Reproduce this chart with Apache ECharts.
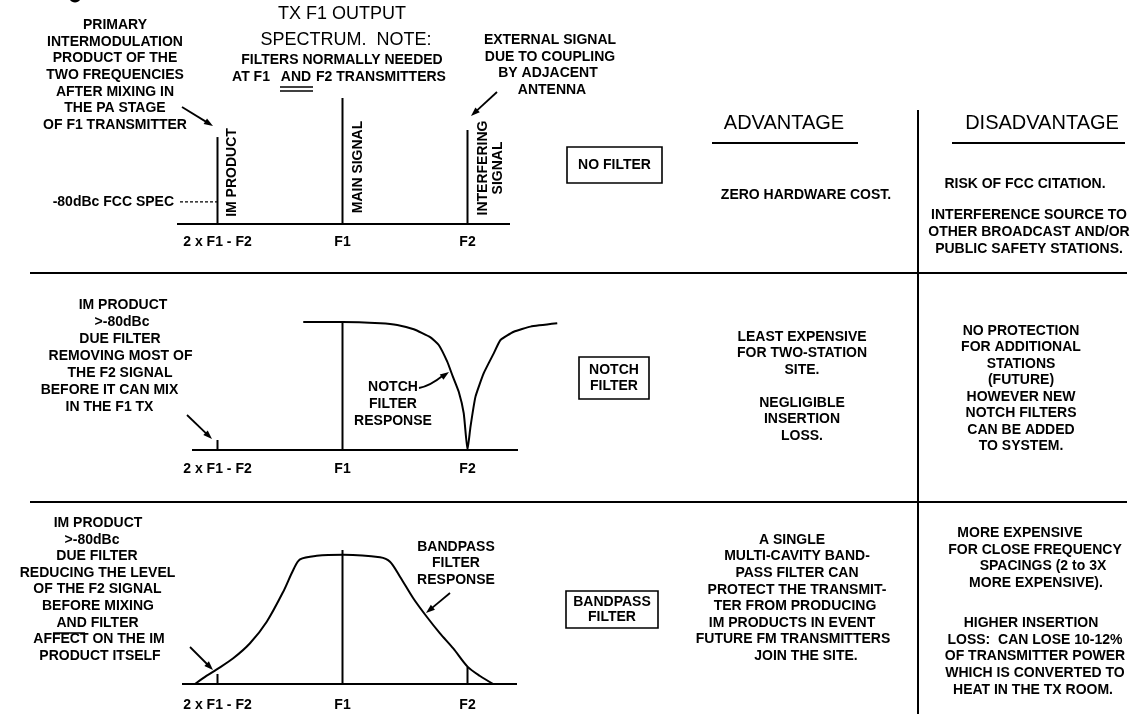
<!DOCTYPE html>
<html><head><meta charset="utf-8">
<script src="https://cdn.jsdelivr.net/npm/echarts@6/dist/echarts.min.js"></script>
<style>html,body{margin:0;padding:0;background:#fff}#c{width:1135px;height:714px}</style>
</head><body><div id="c"></div>
<script>
// ---------------- data ----------------
const freqPos = [1, 2, 3];
const freqLabels = ['2 x F1 - F2', 'F1', 'F2'];
// Panel 1: no filter (relative level, main signal = 100)
const noFilterFreq = [1, 2, 3];
const noFilterLevel = [69, 100, 74.6];
const fccSpecLevel = 17.5;
const fccSpecSpan = [0.70, 1.02];
// Panel 2: notch filter
const notchImLevel = 7.8;
const notchMainLevel = 100;
const notchFreq = [1.686, 2.0, 2.304, 2.438, 2.570, 2.704, 2.770, 2.838, 2.878, 2.930, 2.970, 3.0, 3.024, 3.064, 3.130, 3.210, 3.264, 3.370, 3.504, 3.718];
const notchResp = [100, 100, 99, 97.7, 94.3, 88.0, 82.0, 69.0, 58.6, 45.5, 28.6, 0, 18.2, 41.7, 60.0, 75.5, 85.9, 92.4, 96.4, 99.0];
// Panel 3: bandpass filter
const bandImLevel = 7.5;
const bandMainLevel = 100;
const bandF2Level = 12.7;
const bandFreq = [0.82, 0.914, 0.994, 1.126, 1.26, 1.394, 1.526, 1.606, 1.66, 1.794, 2.006, 2.30, 2.38, 2.46, 2.566, 2.674, 2.78, 2.886, 3.0, 3.1, 3.206];
const bandResp = [0, 6.2, 10.9, 19.2, 30.4, 46.5, 68.9, 85.1, 93.0, 95.7, 96.5, 94.6, 91.3, 80.1, 64.0, 50.2, 37.8, 26.6, 13.0, 6.0, 0];
// baseline extents (frequency units) per panel
const baselineSpans = [[0.676, 3.34], [0.796, 3.404], [0.716, 3.396]];

// ---------------- layout / style ----------------
const LS = '"Liberation Sans", Arial, sans-serif';
const BF = 'bold 14px ' + LS;
const grids = [
  {left: 155, top: 98, width: 437.5, height: 126},
  {left: 155, top: 322, width: 437.5, height: 128},
  {left: 155, top: 550, width: 437.5, height: 134}
];
const labelMargins = [11, 12, 14];

function seg(g, pts, extra) {
  return Object.assign({
    type: 'line', xAxisIndex: g, yAxisIndex: g, data: pts, symbol: 'none',
    silent: true, animation: false,
    lineStyle: {color: '#000', width: 2}
  }, extra || {});
}
const series = [];
baselineSpans.forEach((s, g) => series.push(seg(g, [[s[0], 0], [s[1], 0]])));
// panel 1 spectral lines
noFilterFreq.forEach((f, i) => series.push(seg(0, [[f, 0], [f, noFilterLevel[i]]])));
series.push(seg(0, [[fccSpecSpan[0], fccSpecLevel], [fccSpecSpan[1], fccSpecLevel]], {lineStyle: {color: '#000', width: 1.2, type: [3, 2]}}));
// panel 2
series.push(seg(1, [[freqPos[0], 0], [freqPos[0], notchImLevel]]));
series.push(seg(1, [[freqPos[1], 0], [freqPos[1], notchMainLevel]]));
series.push(seg(1, notchFreq.map((f, i) => [f, notchResp[i]]), {smooth: 0.15}));
// panel 3
series.push(seg(2, [[freqPos[0], 0], [freqPos[0], bandImLevel]]));
series.push(seg(2, [[freqPos[1], 0], [freqPos[1], bandMainLevel]]));
series.push(seg(2, [[freqPos[2], 0], [freqPos[2], bandF2Level]]));
series.push(seg(2, bandFreq.map((f, i) => [f, bandResp[i]]), {smooth: 0.3}));

const xAxis = grids.map((g, i) => ({
  type: 'value', gridIndex: i, min: 0.5, max: 4,
  axisLine: {show: false}, axisTick: {show: false}, splitLine: {show: false},
  axisLabel: {
    customValues: freqPos, margin: labelMargins[i],
    formatter: v => freqLabels[freqPos.indexOf(v)] || '',
    color: '#000', fontFamily: LS, fontWeight: 'bold', fontSize: 14
  }
}));
const yAxis = grids.map((g, i) => ({type: 'value', gridIndex: i, min: 0, max: 100, show: false}));

// ---------------- graphic helpers ----------------
function T(x, y, text, opt) {
  opt = opt || {};
  const al = opt.align || 'center';
  return {type: 'text', x: x, y: y, rotation: opt.rot || 0, silent: true,
    style: {text: text, x: 0, y: 0, fill: '#000', font: opt.font || BF,
      textAlign: al, align: al, textVerticalAlign: 'middle', verticalAlign: 'middle'}};
}
function block(lines, xs, y0, dy, opt) {
  return lines.map((s, i) => T(Array.isArray(xs) ? xs[i] : xs, y0 + i * dy, s, opt));
}
function L(x1, y1, x2, y2, w) {
  return {type: 'line', silent: true, shape: {x1, y1, x2, y2}, style: {stroke: '#000', lineWidth: w || 2}};
}
function R(x, y, w, h) {
  return {type: 'rect', silent: true, shape: {x, y, width: w, height: h}, style: {fill: 'none', stroke: '#000', lineWidth: 1.6}};
}
function head(x1, y1, x2, y2) {
  const a = Math.atan2(y2 - y1, x2 - x1), l = 9, hw = 3.2;
  const bx = x2 - l * Math.cos(a), by = y2 - l * Math.sin(a);
  return {type: 'polygon', silent: true, shape: {points: [[x2, y2],
    [bx + hw * Math.sin(a), by - hw * Math.cos(a)], [bx - hw * Math.sin(a), by + hw * Math.cos(a)]]},
    style: {fill: '#000'}};
}
function arrow(x1, y1, x2, y2) {
  const a = Math.atan2(y2 - y1, x2 - x1);
  return [L(x1, y1, x2 - 6 * Math.cos(a), y2 - 6 * Math.sin(a), 1.8), head(x1, y1, x2, y2)];
}

const T18 = '18px ' + LS, T20 = '20px ' + LS;
let el = [];
// partial glyph at top edge
el.push({type: 'ellipse', silent: true, shape: {cx: 75, cy: -3, rx: 6, ry: 5.5}, style: {fill: '#000'}});
// Title
el.push(T(342, 14, 'TX F1 OUTPUT', {font: T18}));
el.push(T(346, 40, 'SPECTRUM.  NOTE:', {font: T18}));
el.push(T(342, 60, 'FILTERS NORMALLY NEEDED'));
el.push(T(251, 77, 'AT F1'));
el.push(T(296, 77, 'AND'));
el.push(T(381, 77, 'F2 TRANSMITTERS'));
el.push(L(280, 87, 313, 87, 1.5), L(280, 91, 313, 91, 1.5));
// Panel 1 annotations
el = el.concat(block(['PRIMARY', 'INTERMODULATION', 'PRODUCT OF THE', 'TWO FREQUENCIES', 'AFTER MIXING IN', 'THE PA STAGE', 'OF F1 TRANSMITTER'], 115, 25, 16.67));
el = el.concat(arrow(182, 107, 213, 126));
el = el.concat(block(['EXTERNAL SIGNAL', 'DUE TO COUPLING', 'BY ADJACENT', 'ANTENNA'], [550, 550, 548, 552], 40, 16.67));
el = el.concat(arrow(497, 92, 471, 116));
el.push(T(174, 202, '-80dBc FCC SPEC', {align: 'right'}));
el.push(T(232.5, 172.5, 'IM PRODUCT', {rot: Math.PI / 2}));
el.push(T(358.5, 167, 'MAIN SIGNAL', {rot: Math.PI / 2}));
el.push(T(483, 168, 'INTERFERING', {rot: Math.PI / 2}));
el.push(T(498.5, 168, 'SIGNAL', {rot: Math.PI / 2}));
el.push(R(567, 147, 95, 36), T(614.5, 165, 'NO FILTER'));
// Column headers
el.push(T(784, 123, 'ADVANTAGE', {font: T20}), L(712, 143, 858, 143));
el.push(T(1042, 123, 'DISADVANTAGE', {font: T20}), L(952, 143, 1125, 143));
el.push(L(918, 110, 918, 714));
el.push(L(30, 273, 1127, 273), L(30, 502, 1127, 502));
el.push(T(806, 195, 'ZERO HARDWARE COST.'));
el.push(T(1025, 184, 'RISK OF FCC CITATION.'));
el = el.concat(block(['INTERFERENCE SOURCE TO', 'OTHER BROADCAST AND/OR', 'PUBLIC SAFETY STATIONS.'], 1029, 215, 17));
// Panel 2 annotations
el = el.concat(block(['IM PRODUCT', '>-80dBc', 'DUE FILTER', 'REMOVING MOST OF', 'THE F2 SIGNAL', 'BEFORE IT CAN MIX', 'IN THE F1 TX'],
  [123, 122, 120, 120.5, 120, 109.5, 109.5], 305, 17));
el = el.concat(arrow(187, 415, 212, 439));
el = el.concat(block(['NOTCH', 'FILTER', 'RESPONSE'], 393, 387, 17));
el.push({type: 'bezierCurve', silent: true, shape: {x1: 419, y1: 388, x2: 443, y2: 375.5, cpx1: 430, cpy1: 386}, style: {stroke: '#000', lineWidth: 1.8, fill: 'none'}});
el.push(head(436, 381, 449, 372));
el.push(R(579, 357, 70, 42));
el = el.concat(block(['NOTCH', 'FILTER'], 614, 370, 16.5));
el = el.concat(block(['LEAST EXPENSIVE', 'FOR TWO-STATION', 'SITE.'], 802, 337, 16.5));
el = el.concat(block(['NEGLIGIBLE', 'INSERTION', 'LOSS.'], 802, 403, 16.5));
el = el.concat(block(['NO PROTECTION', 'FOR ADDITIONAL', 'STATIONS', '(FUTURE)', 'HOWEVER NEW', 'NOTCH FILTERS', 'CAN BE ADDED', 'TO SYSTEM.'], 1021, 331, 16.5));
// Panel 3 annotations
el = el.concat(block(['IM PRODUCT', '>-80dBc', 'DUE FILTER', 'REDUCING THE LEVEL', 'OF THE F2 SIGNAL', 'BEFORE MIXING', 'AND FILTER', 'AFFECT ON THE IM', 'PRODUCT ITSELF'],
  [98, 92, 97, 97.5, 97.5, 98, 97.5, 99, 100], 523, 16.65));
el.push(L(53, 633, 85, 633, 1.5));
el = el.concat(arrow(190, 647, 213, 670));
el = el.concat(block(['BANDPASS', 'FILTER', 'RESPONSE'], 456, 547, 16.5));
el = el.concat(arrow(450, 593, 426, 613));
el.push(R(566, 591, 92, 37));
el = el.concat(block(['BANDPASS', 'FILTER'], 612, 602, 15.5));
el = el.concat(block(['A SINGLE', 'MULTI-CAVITY BAND-', 'PASS FILTER CAN', 'PROTECT THE TRANSMIT-', 'TER FROM PRODUCING', 'IM PRODUCTS IN EVENT', 'FUTURE FM TRANSMITTERS', 'JOIN THE SITE.'],
  [792, 797, 797, 797, 795, 792, 793, 806], 540, 16.6));
el = el.concat(block(['MORE EXPENSIVE', 'FOR CLOSE FREQUENCY', 'SPACINGS (2 to 3X', 'MORE EXPENSIVE).'], [1020, 1035, 1043, 1036], 533, 16.7));
el = el.concat(block(['HIGHER INSERTION', 'LOSS:  CAN LOSE 10-12%', 'OF TRANSMITTER POWER', 'WHICH IS CONVERTED TO', 'HEAT IN THE TX ROOM.'], [1031, 1035, 1035, 1035, 1033], 623, 16.7));

const chart = echarts.init(document.getElementById('c'), null, {renderer: 'canvas'});
chart.setOption({
  backgroundColor: '#fff',
  animation: false,
  grid: grids,
  xAxis: xAxis,
  yAxis: yAxis,
  series: series,
  graphic: {elements: el}
});
</script></body></html>
